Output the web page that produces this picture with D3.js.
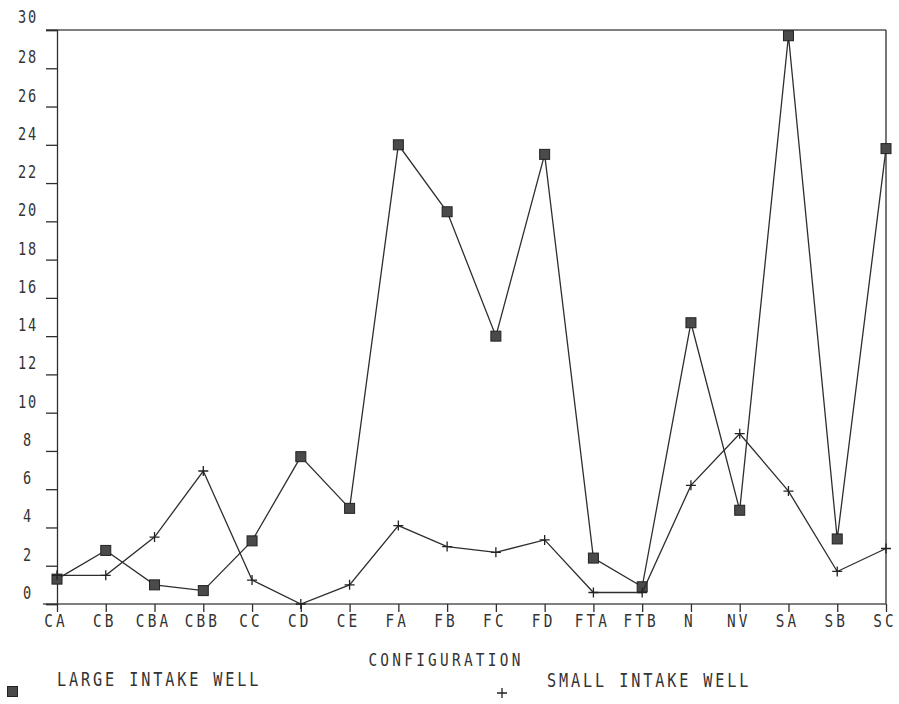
<!DOCTYPE html>
<html>
<head>
<meta charset="utf-8">
<script src="https://cdn.jsdelivr.net/npm/d3@7"></script>
<style>
  body { margin: 0; background: #fff; }
  svg text { font-family: "DejaVu Sans Mono", "Liberation Mono", monospace; fill: #333; }
</style>
</head>
<body>
<svg id="chart" width="899" height="704"></svg>
<script>
// configurations along the x axis
var configurations = ["CA", "CB", "CBA", "CBB", "CC", "CD", "CE", "FA", "FB", "FC", "FD", "FTA", "FTB", "N", "NV", "SA", "SB", "SC"];
// large intake well (squares)
var largeWell = [1.3, 2.8, 1.0, 0.7, 3.3, 7.7, 5.0, 24.0, 20.5, 14.0, 23.5, 2.4, 0.9, 14.7, 4.9, 29.7, 3.4, 23.8];
// small intake well (crosses)
var smallWell = [1.5, 1.5, 3.5, 6.95, 1.25, 0.0, 1.0, 4.1, 3.0, 2.7, 3.35, 0.6, 0.6, 6.2, 8.9, 5.9, 1.7, 2.9];
var yTicks = [0, 2, 4, 6, 8, 10, 12, 14, 16, 18, 20, 22, 24, 26, 28, 30];

var Chart = (function () {
    var ink = "#2e2e2e";
    var left = 57, right = 886, top = 30, bottom = 604;
    var squeeze = 0.8; // plotter lettering is narrower than the mono font

    function Chart(svgId) {
        this.svg = d3.select(svgId);
        this.x = d3.scalePoint().domain(configurations).range([left, right]);
        this.y = d3.scaleLinear().domain([0, 30]).range([bottom, top]);
        this.drawFrame();
        this.drawAxes();
        this.drawSeries(largeWell, "square");
        this.drawSeries(smallWell, "cross");
        this.drawLegend();
    }

    // text narrowed horizontally around its anchor point
    Chart.place = function (sel, fx, fy) {
        return sel.attr("transform", function (d, i) {
            return "translate(" + fx(d, i) + "," + fy(d, i) + ") scale(" + squeeze + ",1)";
        });
    };

    Chart.prototype.drawFrame = function () {
        // top border and right border
        this.svg.append("line")
            .attr("x1", 46).attr("x2", right)
            .attr("y1", this.y(30)).attr("y2", this.y(30))
            .attr("stroke", "#555").attr("stroke-width", 1.6);
        this.svg.append("line")
            .attr("x1", right).attr("x2", right)
            .attr("y1", this.y(30)).attr("y2", this.y(0))
            .attr("stroke", ink).attr("stroke-width", 1.3);
        // baseline runs a little past the y axis
        this.svg.append("line")
            .attr("x1", 43).attr("x2", right)
            .attr("y1", this.y(0)).attr("y2", this.y(0))
            .attr("stroke", "#555").attr("stroke-width", 1.6);
    };

    Chart.prototype.drawAxes = function () {
        var y = this.y, x = this.x;
        var yAxis = d3.axisLeft(y).tickValues(yTicks).tickSize(11).tickFormat("");
        var gy = this.svg.append("g")
            .attr("transform", "translate(" + left + ",0)")
            .call(yAxis);
        gy.select(".domain").attr("stroke", ink).attr("stroke-width", 1.3);
        gy.selectAll(".tick line").attr("stroke", ink).attr("stroke-width", 1.3);

        // labels sit above their tick marks, like the plotter did
        var yl = this.svg.append("g").selectAll("text")
            .data(yTicks)
            .enter().append("text")
            .attr("text-anchor", "middle")
            .style("font-size", "17px")
            .style("letter-spacing", "2.3px")
            .text(function (d) { return d; });
        Chart.place(yl, function () { return 28; },
            function (d) { return y(d) - (d === 30 ? 7 : 5); });

        var xAxis = d3.axisBottom(x).tickSize(8).tickFormat("");
        var gx = this.svg.append("g")
            .attr("transform", "translate(0," + bottom + ")")
            .call(xAxis);
        gx.select(".domain").remove();
        gx.selectAll(".tick line").attr("stroke", ink).attr("stroke-width", 1.3);

        var xl = this.svg.append("g").selectAll("text")
            .data(configurations)
            .enter().append("text")
            .attr("text-anchor", "middle")
            .style("font-size", "18px")
            .style("letter-spacing", "3.9px")
            .text(function (d) { return d; });
        Chart.place(xl, function (d) { return x(d) - 1; }, function () { return 627; });

        var title = this.svg.append("text")
            .datum("CONFIGURATION")
            .attr("text-anchor", "middle")
            .style("font-size", "18px")
            .style("letter-spacing", "4.1px")
            .text(function (d) { return d; });
        Chart.place(title, function () { return 446; }, function () { return 666; });
    };

    Chart.prototype.drawSeries = function (values, kind) {
        var x = this.x, y = this.y;
        var line = d3.line()
            .x(function (d, i) { return x(configurations[i]); })
            .y(function (d) { return y(d); });
        this.svg.append("path")
            .datum(values)
            .attr("d", line)
            .attr("fill", "none")
            .attr("stroke", ink)
            .attr("stroke-width", 1.3);
        var marks = this.svg.append("g").selectAll("g")
            .data(values)
            .enter().append("g")
            .attr("transform", function (d, i) {
                return "translate(" + x(configurations[i]) + "," + y(d) + ")";
            });
        Chart.marker(marks, kind);
    };

    Chart.marker = function (sel, kind) {
        if (kind === "square") {
            sel.append("rect")
                .attr("x", -5).attr("y", -5)
                .attr("width", 10).attr("height", 10)
                .attr("fill", "#4a4a4a")
                .attr("stroke", "#222").attr("stroke-width", 1);
        } else {
            sel.append("path")
                .attr("d", "M-5,0H5M0,-5V5")
                .attr("stroke", "#222").attr("stroke-width", 1.3);
        }
    };

    Chart.prototype.drawLegend = function () {
        var sq = this.svg.append("g").attr("transform", "translate(12.5,691.5)");
        Chart.marker(sq, "square");
        var t1 = this.svg.append("text")
            .datum("LARGE INTAKE WELL")
            .style("font-size", "19px")
            .style("letter-spacing", "3.6px")
            .text(function (d) { return d; });
        Chart.place(t1, function () { return 57; }, function () { return 686; });
        var cr = this.svg.append("g").attr("transform", "translate(502,693)");
        Chart.marker(cr, "cross");
        var t2 = this.svg.append("text")
            .datum("SMALL INTAKE WELL")
            .style("font-size", "19px")
            .style("letter-spacing", "3.6px")
            .text(function (d) { return d; });
        Chart.place(t2, function () { return 547; }, function () { return 687; });
    };

    return Chart;
}());

var chart = new Chart("#chart");
</script>
</body>
</html>
